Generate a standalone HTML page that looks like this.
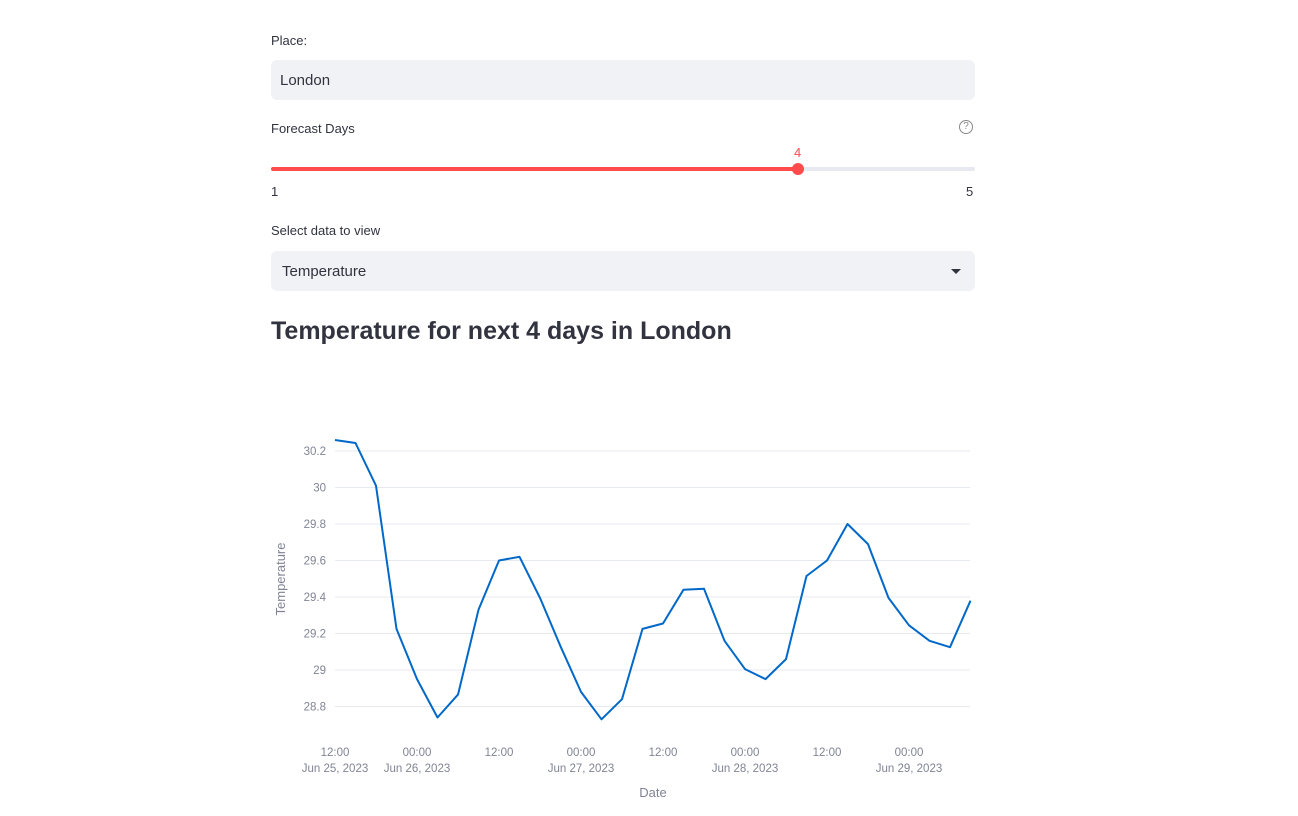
<!DOCTYPE html>
<html><head><meta charset="utf-8"><style>
body{margin:0;width:1298px;height:816px;background:#fff;font-family:"Liberation Sans",sans-serif;color:rgb(49,51,63);position:relative;overflow:hidden}
.abs{position:absolute}
.lbl{font-size:13px}
.box{background:#f0f2f6;border-radius:6px;left:271px;width:704px;height:40px}
</style></head><body>
<div class="abs lbl" style="left:271px;top:33px">Place:</div>
<div class="abs box" style="top:60px"><span style="position:absolute;left:9px;top:12px;font-size:15px">London</span></div>
<div class="abs lbl" style="left:271px;top:121px">Forecast Days</div>
<div class="abs" style="left:959px;top:120px;width:12px;height:12px;border:1.3px solid #888;border-radius:50%;font-size:10px;text-align:center;line-height:12px;color:#888">?</div>
<div class="abs" style="left:271px;top:167px;width:704px;height:4px;background:#e6e9ef;border-radius:2px"></div>
<div class="abs" style="left:271px;top:167px;width:527px;height:4px;background:#ff4b4b;border-radius:2px"></div>
<div class="abs" style="left:792px;top:163px;width:12px;height:12px;background:#ff4b4b;border-radius:50%"></div>
<div class="abs" style="left:794px;top:145px;font-size:13px;color:#ff4b4b">4</div>
<div class="abs" style="left:271px;top:184px;font-size:13px">1</div>
<div class="abs" style="left:966px;top:184px;font-size:13px">5</div>
<div class="abs lbl" style="left:271px;top:223px">Select data to view</div>
<div class="abs box" style="top:251px"><span style="position:absolute;left:11px;top:12px;font-size:15px">Temperature</span>
<div style="position:absolute;right:14px;top:18px;width:0;height:0;border-left:5px solid transparent;border-right:5px solid transparent;border-top:5px solid #31333f"></div></div>
<div class="abs" style="left:271px;top:317px;font-size:25px;font-weight:bold">Temperature for next 4 days in London</div>
<svg class="abs" style="left:0;top:0" width="1298" height="816" id="chart"></svg>
<script>
const temps=[30.26,30.244,30.01,29.225,28.95,28.74,28.865,29.33,29.6,29.62,29.395,29.13,28.88,28.73,28.84,29.225,29.255,29.44,29.445,29.16,29.005,28.95,29.06,29.515,29.6,29.8,29.69,29.395,29.245,29.16,29.125,29.38];
const yTicks=[28.8,29,29.2,29.4,29.6,29.8,30,30.2];
const yTickLabels=["28.8","29","29.2","29.4","29.6","29.8","30","30.2"];
const xTickHours=[0,12,24,36,48,60,72,84];
const xTickTimes=["12:00","00:00","12:00","00:00","12:00","00:00","12:00","00:00"];
const xTickDates=["Jun 25, 2023","Jun 26, 2023","","Jun 27, 2023","","Jun 28, 2023","","Jun 29, 2023"];
const stepHours=3;
const NS="http://www.w3.org/2000/svg";
const svg=document.getElementById('chart');
const X=h=>335+h*(82/12);
const Y=v=>451-(v-30.2)*182.5;
function mk(t,a,txt){const e=document.createElementNS(NS,t);for(const k in a)e.setAttribute(k,a[k]);if(txt!==undefined)e.textContent=txt;svg.appendChild(e);return e;}
yTicks.forEach((v,i)=>{
 const g=mk('line',{x1:335,x2:970,y1:Y(v),y2:Y(v),stroke:'#e6e9ef','stroke-width':1});
 
 
 const t=mk('text',{x:326,y:Y(v)+4,'text-anchor':'end','font-size':11.5,fill:'#808495','font-family':'Liberation Sans, sans-serif'},yTickLabels[i]);
 
 
});
xTickHours.forEach((h,i)=>{
 const t=mk('text',{x:X(h),y:756,'text-anchor':'middle','font-size':11.5,fill:'#808495','font-family':'Liberation Sans, sans-serif'},xTickTimes[i]);
 
 
 if(xTickDates[i]){const d=mk('text',{x:X(h),y:772,'text-anchor':'middle','font-size':11.5,fill:'#808495','font-family':'Liberation Sans, sans-serif'},xTickDates[i]);
 
 }
});
const pts=temps.map((v,i)=>X(i*stepHours).toFixed(1)+','+Y(v).toFixed(1)).join(' ');
const line=mk('polyline',{points:pts,fill:'none',stroke:'#0068c9','stroke-width':2,'stroke-linejoin':'round'});


const xt=mk('text',{x:653,y:797,'text-anchor':'middle','font-size':13,fill:'#808495','font-family':'Liberation Sans, sans-serif'},'Date');


const yt=mk('text',{x:0,y:0,'text-anchor':'middle','font-size':13,fill:'#808495','font-family':'Liberation Sans, sans-serif',transform:'translate(285,579) rotate(-90)'},'Temperature');


</script>
</body></html>
